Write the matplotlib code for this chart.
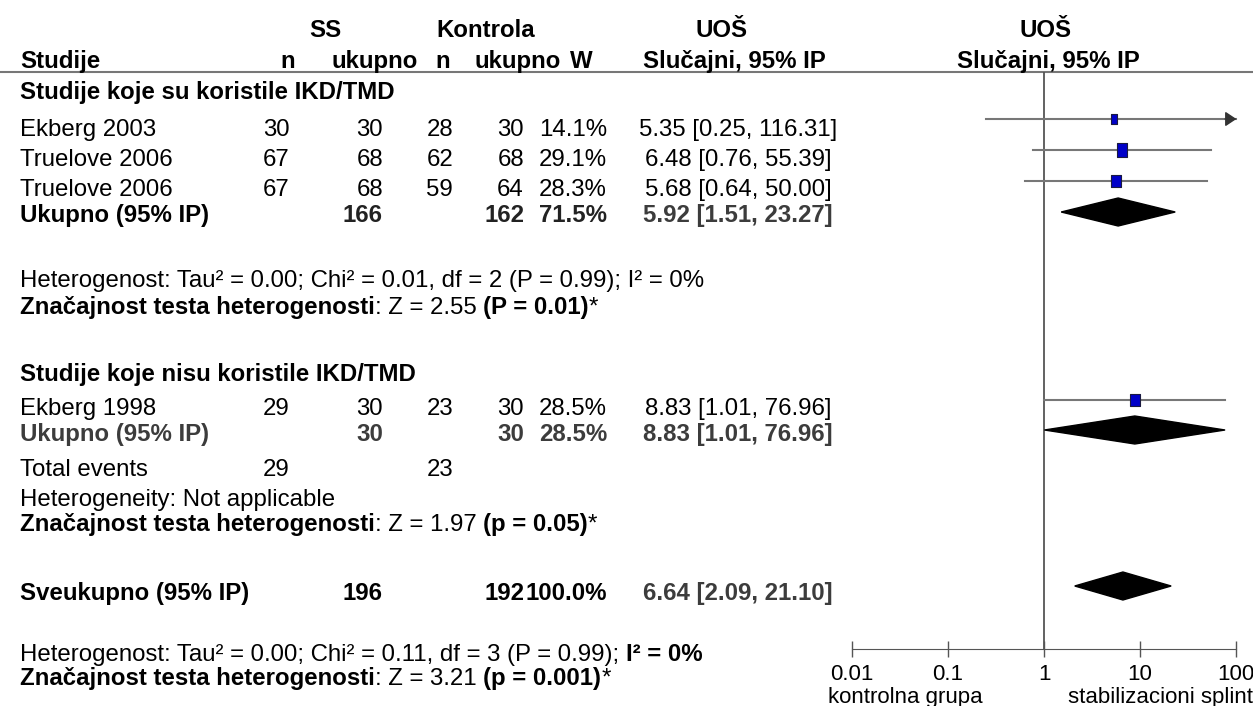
import matplotlib
matplotlib.use('Agg')
import matplotlib.pyplot as plt
from matplotlib.path import Path
from matplotlib.ticker import NullLocator

plt.rcParams['font.family'] = ['Liberation Sans', 'DejaVu Sans']

# ---- data ----
studies1 = ['Ekberg 2003', 'Truelove 2006', 'Truelove 2006']
ss_n1 = [30, 67, 67]
ss_tot1 = [30, 68, 68]
k_n1 = [28, 62, 59]
k_tot1 = [30, 68, 64]
w1 = [14.1, 29.1, 28.3]
or1 = [5.35, 6.48, 5.68]
lo1 = [0.25, 0.76, 0.64]
hi1 = [116.31, 55.39, 50.00]
sub1 = dict(ss=166, k=162, w=71.5, est=5.92, lo=1.51, hi=23.27)

studies2 = ['Ekberg 1998']
ss_n2 = [29]
ss_tot2 = [30]
k_n2 = [23]
k_tot2 = [30]
w2 = [28.5]
or2 = [8.83]
lo2 = [1.01]
hi2 = [76.96]
sub2 = dict(ss=30, k=30, w=28.5, est=8.83, lo=1.01, hi=76.96)
events2 = (29, 23)

overall = dict(ss=196, k=192, w=100.0, est=6.64, lo=2.09, hi=21.10)

ticks = [0.01, 0.1, 1, 10, 100]
tick_labels = ['0.01', '0.1', '1', '10', '100']

# ---- layout (pixels) ----
W, H = 1253, 706
FS = 17.3
SPACE = FS * 100 / 72 * 0.278
GRAY = '#3c3c3c'

X_NAME = 20
X_SSN, X_SST, X_KN, X_KT, X_W, X_CI = 290, 383, 453, 524, 607, 738

fig = plt.figure(figsize=(W / 100, H / 100), dpi=100)
ax = fig.add_axes([0, 0, 1, 1])
ax.set_xlim(0, W)
ax.set_ylim(H, 0)
ax.axis('off')


def t(x, y, s, ha='left', bold=False, color='black', size=FS):
    cap = size * 100 / 72 * 0.716
    return ax.text(x, y + cap / 2, s, ha=ha, va='baseline', fontsize=size,
                   fontweight='bold' if bold else 'normal', color=color)


def rich(x, y, parts):
    r = fig.canvas.get_renderer()
    for s, bold in parts:
        if s.startswith(' '):
            x += SPACE
            s = s[1:]
        tt = t(x, y, s, bold=bold)
        x += tt.get_window_extent(r).width


# header
for xc, s in [(325, 'SS'), (486, 'Kontrola'), (722, 'UOŠ'), (1046, 'UOŠ')]:
    t(xc, 28, s, ha='center', bold=True)
t(X_NAME, 59, 'Studije', bold=True)
for xc, s in [(288, 'n'), (375, 'ukupno'), (443, 'n'), (518, 'ukupno'), (581, 'W'),
              (734, 'Slučajni, 95% IP'), (1048, 'Slučajni, 95% IP')]:
    t(xc, 59, s, ha='center', bold=True)
ax.axhline(72, color='#777777', lw=1.5)


def study_row(y, name, a, b, c, d, w, est, lo, hi):
    t(X_NAME, y, name)
    t(X_SSN, y, str(a), ha='right')
    t(X_SST, y, str(b), ha='right')
    t(X_KN, y, str(c), ha='right')
    t(X_KT, y, str(d), ha='right')
    t(X_W, y, f'{w:.1f}%', ha='right')
    t(X_CI, y, f'{est:.2f} [{lo:.2f}, {hi:.2f}]', ha='center')


def sum_row(y, name, s, col, colname):
    t(X_NAME, y, name, bold=True, color=colname)
    t(X_SST, y, str(s['ss']), ha='right', bold=True, color=col)
    t(X_KT, y, str(s['k']), ha='right', bold=True, color=col)
    t(X_W, y, f"{s['w']:.1f}%", ha='right', bold=True, color=col)
    t(X_CI, y, f"{s['est']:.2f} [{s['lo']:.2f}, {s['hi']:.2f}]", ha='center', bold=True, color=GRAY)


# subgroup 1
t(X_NAME, 90, 'Studije koje su koristile IKD/TMD', bold=True)
rows1 = [127, 157, 187]
for i, y in enumerate(rows1):
    study_row(y, studies1[i], ss_n1[i], ss_tot1[i], k_n1[i], k_tot1[i], w1[i], or1[i], lo1[i], hi1[i])
sum_row(213, 'Ukupno (95% IP)', sub1, '#222222', 'black')
t(X_NAME, 278, 'Heterogenost: Tau² = 0.00; Chi² = 0.01, df = 2 (P = 0.99); I² = 0%')
rich(X_NAME, 305, [('Značajnost testa heterogenosti', True), (': Z = 2.55', False),
                   (' (P = 0.01)', True), ('*', False)])

# subgroup 2
t(X_NAME, 372, 'Studije koje nisu koristile IKD/TMD', bold=True)
rows2 = [406]
for i, y in enumerate(rows2):
    study_row(y, studies2[i], ss_n2[i], ss_tot2[i], k_n2[i], k_tot2[i], w2[i], or2[i], lo2[i], hi2[i])
sum_row(432, 'Ukupno (95% IP)', sub2, GRAY, GRAY)
t(X_NAME, 467, 'Total events')
t(X_SSN, 467, str(events2[0]), ha='right')
t(X_KN, 467, str(events2[1]), ha='right')
t(X_NAME, 497, 'Heterogeneity: Not applicable')
rich(X_NAME, 522, [('Značajnost testa heterogenosti', True), (': Z = 1.97', False),
                   (' (p = 0.05)', True), ('*', False)])

# overall
sum_row(591, 'Sveukupno (95% IP)', overall, 'black', 'black')
rich(X_NAME, 652, [('Heterogenost: Tau² = 0.00; Chi² = 0.11, df = 3 (P = 0.99);', False),
                   (' I² = 0%', True)])
rich(X_NAME, 676, [('Značajnost testa heterogenosti', True), (': Z = 3.21', False),
                   (' (p = 0.001)', True), ('*', False)])

# ---- forest panel ----
AX0, AX1, AXIS_Y = 852, 1236, 649
fx = fig.add_axes([AX0 / W, 0, (AX1 - AX0) / W, 1])
fx.set_xscale('log')
fx.set_xlim(ticks[0], ticks[-1])
fx.set_ylim(H, 0)
fx.patch.set_visible(False)
for sp in ['top', 'left', 'right']:
    fx.spines[sp].set_visible(False)
fx.spines['bottom'].set_position(('data', AXIS_Y))
fx.spines['bottom'].set_color('#555555')
fx.set_xticks(ticks, tick_labels)
fx.xaxis.set_minor_locator(NullLocator())
fx.tick_params(axis='x', direction='inout', length=11.5, width=1, color='#555555',
               labelsize=16, pad=5)
fx.set_yticks([])
fx.vlines(1, 72, AXIS_Y, color='#555555', lw=1.3)

rect = Path([(-0.385, -0.5), (0.385, -0.5), (0.385, 0.5), (-0.385, 0.5), (-0.385, -0.5)],
            [Path.MOVETO, Path.LINETO, Path.LINETO, Path.LINETO, Path.CLOSEPOLY])


def study_mark(y, est, lo, hi, w):
    if hi > ticks[-1]:
        fx.plot([lo, ticks[-1]], [y, y], color='#777777', lw=1.5, clip_on=False)
        fx.annotate('', xy=(ticks[-1] * 1.01, y), xytext=(ticks[-1] / 1.3, y),
                    arrowprops=dict(arrowstyle='-|>,head_length=0.45,head_width=0.3',
                                    color='#333333', lw=1,
                                    mutation_scale=15, shrinkA=0, shrinkB=0),
                    annotation_clip=False)
    else:
        fx.plot([lo, hi], [y, y], color='#777777', lw=1.5, clip_on=False)
    ms = 9.4 * (w / 29.1) ** 0.5
    fx.plot([est], [y], marker=rect, ms=ms, mfc='#0000c8', mec='#1a1a40', mew=0.8,
            clip_on=False, zorder=3)


def diamond(y, s, h=14):
    fx.fill([s['lo'], s['est'], s['hi'], s['est']], [y, y - h, y, y + h],
            color='black', clip_on=False, zorder=3)


for y, e, l, hh, w in zip([119, 150, 181], or1, lo1, hi1, w1):
    study_mark(y, e, l, hh, w)
diamond(212, sub1)
for y, e, l, hh, w in zip([400], or2, lo2, hi2, w2):
    study_mark(y, e, l, hh, w)
diamond(430, sub2)
diamond(586, overall)

t(905, 695, 'kontrolna grupa', ha='center', size=16)
t(1160, 695, 'stabilizacioni splint', ha='center', size=16)

fig.savefig('out.png', dpi=100)
